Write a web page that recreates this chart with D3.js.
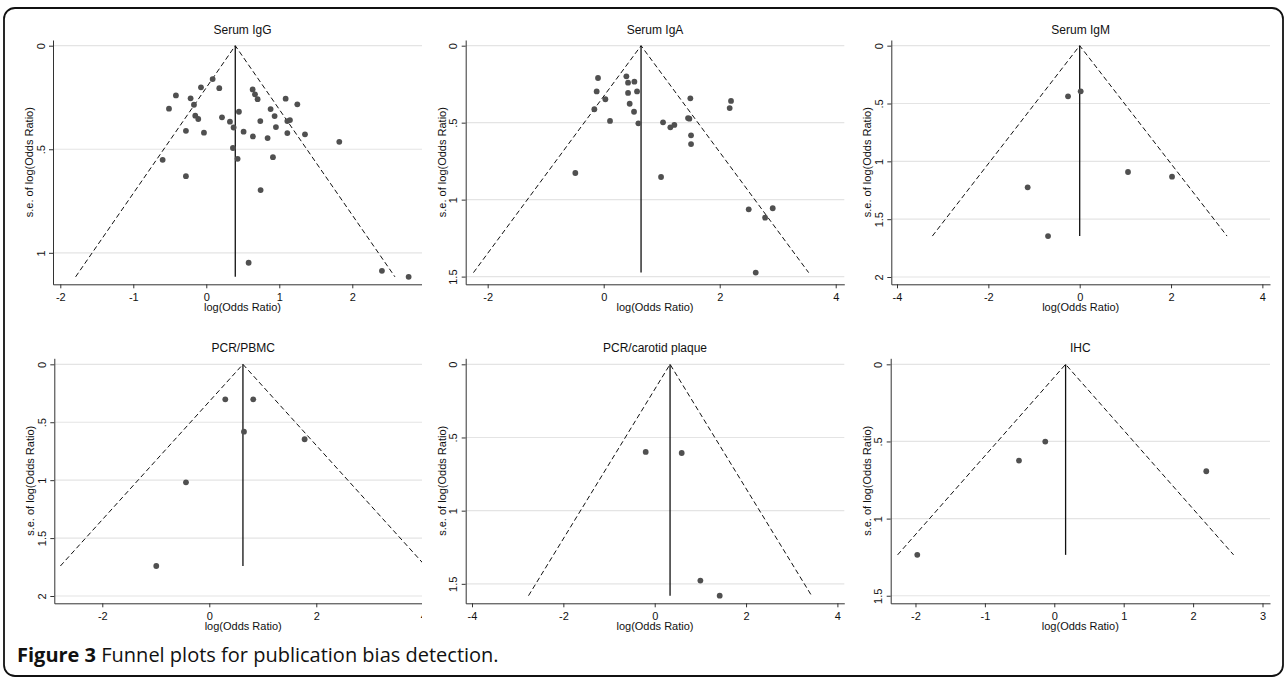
<!DOCTYPE html>
<html>
<head>
<meta charset="utf-8">
<script src="https://cdn.jsdelivr.net/npm/d3@7/dist/d3.min.js"></script>
<style>
  body { margin: 0; background: #fff; }
  svg text { font-family: "Liberation Sans", Arial, sans-serif; fill: #111; }
</style>
</head>
<body>
<div id="chart-container"></div>
<script>
// panel titles and funnel centres (pooled log odds ratio)
const titles = ['Serum IgG', 'Serum IgA', 'Serum IgM', 'PCR/PBMC', 'PCR/carotid plaque', 'IHC'];
const pooledLogOR = [0.397, 0.644, 0.0, 0.629, 0.336, 0.163];

const xTicks = [
  [-2, -1, 0, 1, 2],
  [-2, 0, 2, 4],
  [-4, -2, 0, 2, 4],
  [-2, 0, 2, 4],
  [-4, -2, 0, 2, 4],
  [-2, -1, 0, 1, 2, 3]
];
const yTicks = [
  [0, 0.5, 1],
  [0, 0.5, 1, 1.5],
  [0, 0.5, 1, 1.5, 2],
  [0, 0.5, 1, 1.5, 2],
  [0, 0.5, 1, 1.5],
  [0, 0.5, 1, 1.5]
];

// study values: log(OR) and its s.e.
const igGLogOR = [0.087, -0.073, 0.178, -0.416, -0.215, 0.635, 0.667, 0.703, 1.087, 1.247, -0.511, -0.169, 0.447, 0.881,
  -0.151, -0.110, 0.215, 0.324, 0.374, 0.740, 0.936, 1.110, 1.146, -0.279, -0.032, 0.511, 0.639, 0.840, 0.954, 1.110,
  1.352, 1.822, 0.365, -0.598, 0.429, 0.913, -0.279, 0.744, 0.580, 2.406, 2.772];
const igGSE = [0.161, 0.201, 0.205, 0.240, 0.254, 0.211, 0.235, 0.258, 0.256, 0.283, 0.304, 0.285, 0.319, 0.306,
  0.338, 0.354, 0.346, 0.367, 0.395, 0.364, 0.340, 0.364, 0.359, 0.411, 0.420, 0.415, 0.438, 0.446, 0.393, 0.422,
  0.428, 0.464, 0.494, 0.551, 0.546, 0.538, 0.630, 0.697, 1.048, 1.087, 1.116];

const igALogOR = [-0.098, -0.121, 0.029, -0.161, 0.109, 0.391, 0.420, 0.529, 0.420, 0.575, 0.448, 0.523, 0.598, -0.489,
  1.023, 1.149, 1.218, 0.989, 1.494, 1.454, 1.477, 1.506, 1.506, 2.195, 2.172, 2.500, 2.914, 2.782, 2.621];
const igASE = [0.210, 0.297, 0.348, 0.413, 0.489, 0.199, 0.240, 0.234, 0.307, 0.297, 0.377, 0.429, 0.504, 0.827,
  0.498, 0.530, 0.515, 0.853, 0.342, 0.470, 0.474, 0.582, 0.639, 0.359, 0.405, 1.063, 1.056, 1.117, 1.474];

const igMLogOR = [-0.255, 0.022, 1.058, 2.022, -1.139, -0.693];
const igMSE = [0.438, 0.395, 1.092, 1.133, 1.225, 1.646];

const pbmcLogOR = [0.299, 0.822, 0.648, 1.782, -0.436, -0.991];
const pbmcSE = [0.302, 0.302, 0.581, 0.647, 1.019, 1.741];

const plaqueLogOR = [-0.197, 0.591, 1.0, 1.423];
const plaqueSE = [0.599, 0.606, 1.478, 1.581];

const ihcLogOR = [-0.130, -0.509, 2.190, -1.974];
const ihcSE = [0.501, 0.624, 0.693, 1.235];

const studies = [
  [igGLogOR, igGSE],
  [igALogOR, igASE],
  [igMLogOR, igMSE],
  [pbmcLogOR, pbmcSE],
  [plaqueLogOR, plaqueSE],
  [ihcLogOR, ihcSE]
];

// plot boxes in pixels; left column is cut off by the image edge
const layout = [
  { left: 53, right: 432, top: 40, bottom: 284.3, xDomain: [-2.1, 3.092], yDomain: [-0.0275, 1.152], clipRight: 422 },
  { left: 465.7, right: 844.3, top: 40, bottom: 284.3, xDomain: [-2.379, 4.148], yDomain: [-0.037, 1.55] },
  { left: 891.3, right: 1270, top: 40, bottom: 284.3, xDomain: [-4.125, 4.167], yDomain: [-0.049, 2.063] },
  { left: 54.3, right: 432, top: 358.3, bottom: 603.3, xDomain: [-2.897, 4.163], yDomain: [-0.052, 2.063], clipRight: 422 },
  { left: 465.7, right: 844.3, top: 358.3, bottom: 603.3, xDomain: [-4.138, 4.151], yDomain: [-0.041, 1.633] },
  { left: 890.7, right: 1270, top: 358.3, bottom: 603.3, xDomain: [-2.357, 3.108], yDomain: [-0.039, 1.549] }
];

class FunnelPlot {
  constructor(svg, index) {
    this.box = layout[index];
    this.title = titles[index];
    this.pooled = pooledLogOR[index];
    this.points = studies[index][0].map((v, i) => ({ logOR: v, se: studies[index][1][i] }));
    this.xTicks = xTicks[index];
    this.yTicks = yTicks[index];

    this.x = d3.scaleLinear().domain(this.box.xDomain).range([this.box.left, this.box.right]);
    this.y = d3.scaleLinear().domain(this.box.yDomain).range([this.box.top, this.box.bottom]);

    this.g = svg.append('g');
    if (this.box.clipRight) {
      const id = 'clip-' + index;
      svg.append('clipPath').attr('id', id).append('rect').
      attr('x', 0).attr('y', 0).attr('width', this.box.clipRight).attr('height', 679);
      this.g.attr('clip-path', `url(#${id})`);
    }

    this.drawGrid();
    this.drawFunnel();
    this.drawPoints();
    this.drawAxes();
  }

  drawGrid() {
    this.g.append('g').selectAll('line').data(this.yTicks).enter().append('line').
    attr('x1', this.box.left).attr('x2', this.box.right).
    attr('y1', d => this.y(d)).attr('y2', d => this.y(d)).
    attr('stroke', '#e4e4e4').attr('stroke-width', 1.2);
  }

  drawFunnel() {
    const seMax = d3.max(this.points, d => d.se);
    const line = d3.line().x(d => this.x(d[0])).y(d => this.y(d[1]));
    const p = this.pooled;

    this.g.append('path').
    attr('d', line([[p - 1.96 * seMax, seMax], [p, 0], [p + 1.96 * seMax, seMax]])).
    attr('fill', 'none').attr('stroke', '#111').attr('stroke-width', 1).
    attr('stroke-dasharray', '5,3');

    this.g.append('path').
    attr('d', line([[p, 0], [p, seMax]])).
    attr('stroke', '#111').attr('stroke-width', 1.3);
  }

  drawPoints() {
    this.g.append('g').selectAll('circle').data(this.points).enter().append('circle').
    attr('cx', d => this.x(d.logOR)).
    attr('cy', d => this.y(d.se)).
    attr('r', 2.9).
    attr('fill', '#505050');
  }

  drawAxes() {
    const box = this.box;

    const xAxis = this.g.append('g').
    attr('transform', `translate(0, ${box.bottom})`).
    call(d3.axisBottom(this.x).tickValues(this.xTicks).tickSize(4).tickSizeOuter(0).
    tickFormat(d => String(d)));
    xAxis.selectAll('text').attr('y', 0).attr('dy', 0).
    attr('transform', 'translate(0, 16.5)').style('font-size', '11px').
    style('font-family', '"Liberation Sans", Arial, sans-serif');

    const yAxis = this.g.append('g').
    attr('transform', `translate(${box.left}, 0)`).
    call(d3.axisLeft(this.y).tickValues(this.yTicks).tickSize(4).tickSizeOuter(0).
    tickFormat(d => String(d).replace(/^0\./, '.')));
    yAxis.selectAll('text').attr('x', 0).attr('dy', 0).
    attr('text-anchor', 'middle').
    attr('transform', 'translate(-8.5, 0) rotate(-90)').style('font-size', '11px').
    style('font-family', '"Liberation Sans", Arial, sans-serif');

    [xAxis, yAxis].forEach(a => {
      a.selectAll('path, line').attr('stroke', '#333');
      a.selectAll('text').attr('fill', '#111');
    });

    this.g.append('text').text(this.title).
    attr('x', (box.left + box.right) / 2).attr('y', box.top - 6).
    attr('text-anchor', 'middle').style('font-size', '12px');

    this.g.append('text').text('log(Odds Ratio)').
    attr('x', (box.left + box.right) / 2).attr('y', box.bottom + 26.5).
    attr('text-anchor', 'middle').style('font-size', '11px');

    this.g.append('text').text('s.e. of log(Odds Ratio)').
    attr('text-anchor', 'middle').
    attr('transform', `translate(${box.left - 20}, ${(box.top + box.bottom) / 2}) rotate(-90)`).
    style('font-size', '11px');
  }
}

const svg = d3.select('#chart-container').append('svg').
attr('width', 1287).attr('height', 679);

svg.append('rect').
attr('x', 4).attr('y', 8).attr('width', 1279).attr('height', 668).attr('rx', 11).
attr('fill', '#fff').attr('stroke', '#111').attr('stroke-width', 1.8);

titles.forEach((t, i) => new FunnelPlot(svg, i));

const caption = svg.append('text').
attr('x', 17).attr('y', 662).
style('font-family', '"Open Sans", "Noto Sans", sans-serif').style('font-size', '20px').
attr('fill', '#231f20');
caption.append('tspan').text('Figure 3').style('font-weight', 'bold');
caption.append('tspan').text(' Funnel plots for publication bias detection.');
</script>
</body>
</html>
